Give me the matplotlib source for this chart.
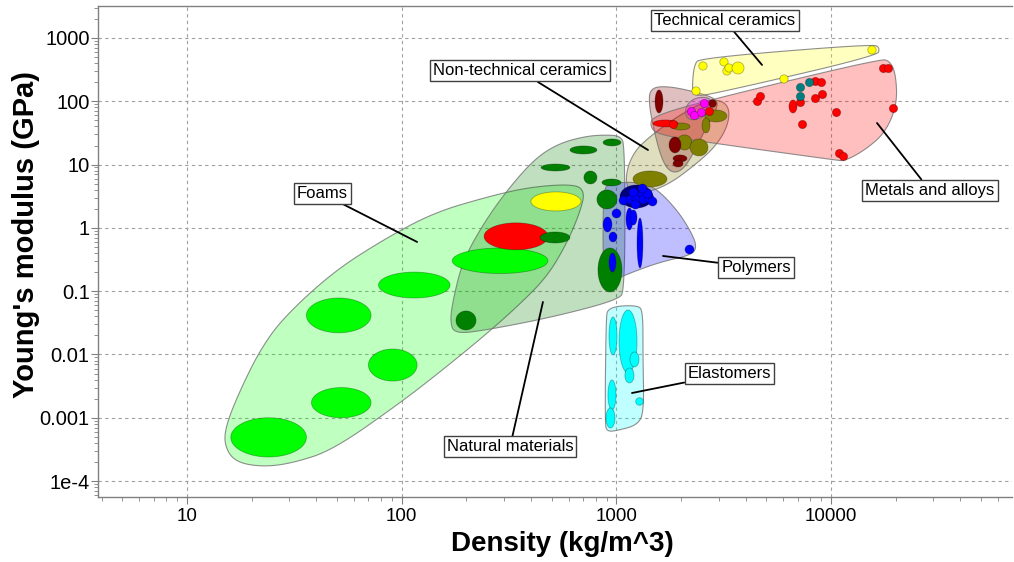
import numpy as np
import matplotlib
matplotlib.use("Agg")
import matplotlib.pyplot as plt
from matplotlib.ticker import FixedLocator, FixedFormatter, LogLocator, NullFormatter

plt.rcParams['font.family'] = ['Liberation Sans', 'DejaVu Sans']

# ---------------- material data: density (kg/m^3) and Young's modulus (GPa) ----------------
# Bubbles are given as (low, high) ranges; envelopes as outline values.

# Foams
FOAM_RHO = [(16, 36), (38, 72), (70, 118), (36, 72), (78, 168), (172, 480), (242, 480), (400, 684)]
FOAM_E = [(2.4e-4, 1.0e-3), (1.0e-3, 3.0e-3), (3.8e-3, 0.0122), (0.022, 0.078),
          (0.078, 0.20), (0.19, 0.48), (0.45, 1.2), (1.85, 3.7)]
FOAM_COLORS = ['#00ff00'] * 6 + ['#ff0000', '#ffff00']
FOAM_ENV_RHO = [641, 714, 677, 589, 475, 344, 239, 150.8, 98.2, 47.9, 31.2, 22.6, 16.7,
                14.9, 15.2, 17.7, 21.9, 28.0, 47.9, 81.8, 139.9, 249.5, 396]
FOAM_ENV_E = [4.94, 3.69, 1.78, 0.577, 0.1676, 0.0563, 0.0189, 5.29e-3, 1.71e-3, 3.10e-4,
              1.93e-4, 1.67e-4, 2.0e-4, 3.72e-4, 7.69e-4, 2.75e-3, 0.01178, 0.0377, 0.201,
              0.644, 1.72, 3.08, 4.43]

# Natural materials
NAT_RHO = [(608, 812), (867, 1051), (446, 608), (706, 812), (857, 1051), (812, 1007),
           (441, 608), (821, 1062), (179, 222)]
NAT_E = [(14.7, 19.7), (19.7, 25.4), (7.92, 10.2), (4.94, 7.92), (4.59, 5.92), (1.99, 3.97),
         (0.577, 0.861), (0.0971, 0.481), (0.0244, 0.0487)]
NAT_ENV_RHO = [904, 1040, 1096, 1096, 1018, 507, 249.5, 177, 168, 173.4, 193, 249.5, 330, 427, 546, 730]
NAT_ENV_E = [29.4, 28.3, 20.4, 0.1045, 0.0726, 0.0391, 0.0244, 0.0211, 0.0326, 0.0726, 0.311,
             1.434, 5.12, 13.2, 21.9, 28.3]

# Polymers
POLY_RHO = [(1040, 1481), (867, 954), (924, 1007), (1109, 1195), (1157, 1248), (1248, 1330), (924, 996)]
POLY_E = [(2.06, 4.76), (0.861, 1.486), (0.599, 0.861), (0.926, 2.06), (1.11, 1.92),
          (0.2325, 1.434), (0.201, 0.401)]
POLY_COLORS = ['#000080'] + ['#0000ff'] * 6
POLY_DOT_RHO = [1074, 1157, 1234, 1221, 1316, 1330, 1419, 1389, 1466, 1316, 1195, 1001, 2191]
POLY_DOT_E = [2.76, 2.86, 2.97, 2.39, 3.56, 2.86, 2.97, 3.56, 2.66, 4.27, 3.69, 1.69, 0.464]
POLY_ENV_RHO = [867, 933, 1288, 1546, 1916, 2203, 2375, 2251, 1597, 1096, 914, 867]
POLY_ENV_E = [3.97, 5.12, 5.31, 4.12, 1.92, 0.926, 0.518, 0.373, 0.289, 0.180, 0.1348, 0.180]

# Elastomers
ELAS_RHO = [(924, 1007), (1029, 1248), (1157, 1275), (1096, 1208), (914, 996), (895, 985)]
ELAS_E = [(9.82e-3, 0.0391), (5.10e-3, 0.0505), (6.35e-3, 0.01095), (3.55e-3, 6.12e-3),
          (1.33e-3, 3.95e-3), (6.90e-4, 1.43e-3)]
ELAS_DOT_RHO = [1275]
ELAS_DOT_E = [1.84e-3]
ELAS_ENV_RHO = [914, 1261, 1330, 1330, 1345, 1247, 1040, 904, 885, 895]
ELAS_ENV_E = [0.0563, 0.0605, 0.0469, 9.13e-3, 1.19e-3, 7.69e-4, 6.42e-4, 5.97e-4, 8.28e-4, 0.0351]

# Non-technical ceramics
NTC_RHO = [(1195, 1721), (1916, 2251), (2203, 2672), (1816, 2203), (2587, 3273), (2506, 2729)]
NTC_E = [(4.43, 7.92), (17.0, 29.4), (13.7, 25.4), (35.2, 45.4), (47.1, 72.9), (31.6, 54.5)]
NTC_ENV_RHO = [1121, 1109, 1208, 1404, 1876, 2587, 3105, 3383, 3273, 2880, 2325, 1740, 1316]
NTC_ENV_E = [3.97, 7.64, 15.8, 26.3, 54.5, 101.1, 104.8, 72.9, 37.8, 19.0, 9.86, 4.76, 3.43]

# Composites
COMP_RHO = [(1514, 1649), (1759, 2000), (1836, 2133), (1836, 2044)]
COMP_E = [(65.3, 150.8), (15.3, 27.3), (11.0, 14.2), (9.16, 11.8)]
COMP_DOT_RHO = [2789]
COMP_DOT_E = [94.0]
COMP_ENV_RHO = [1434, 1740, 2453, 2911, 2974, 2587, 2203, 1979, 1777, 1632, 1514, 1419]
COMP_ENV_E = [162.2, 174.4, 135.3, 108.7, 81.2, 35.2, 11.8, 7.64, 7.64, 11.8, 29.4, 87.4]

# Glasses
GLASS_DOT_RHO = [2227, 2300, 2479, 2560]
GLASS_DOT_E = [70.3, 60.8, 67.7, 94.0]
GLASS_ENV_RHO = [2110, 2300, 2672, 2789, 2616, 2251, 2088]
GLASS_ENV_E = [84.3, 112.7, 116.9, 94.0, 58.6, 48.8, 58.6]

# Metals and alloys
METAL_RHO = [(1481, 1936), (6368, 6941)]
METAL_E = [(39.3, 50.7), (65.3, 104.8)]
METAL_DOT_RHO = [1836, 2701, 8418, 8981, 9077, 8418, 7168, 4519, 4667, 10540, 7322,
                 10890, 11370, 17460, 18420, 19440]
METAL_DOT_E = [43.8, 70.3, 209.3, 201.8, 130.4, 112.7, 97.5, 101.1, 121.2, 67.7, 43.8,
               15.3, 13.7, 335.7, 335.7, 78.4]
TEAL_DOT_RHO = [7895, 7168, 7168]
TEAL_DOT_E = [201.8, 168.2, 121.2]
METAL_ENV_RHO = [1481, 2818, 16900, 18820, 20070, 20290, 17840, 14390, 11610, 10430, 2203, 1546, 1434]
METAL_ENV_E = [58.6, 108.7, 465.9, 433, 260.3, 87.4, 31.6, 17.0, 11.4, 11.8, 24.5, 30.4, 40.7]

# Technical ceramics
TC_DOT_RHO = [2532, 3171, 3275, 3346, 3687, 6037, 15510, 2350]
TC_DOT_E = [361, 417.8, 301, 335.7, 335.7, 225, 646, 145.4]
TC_DOT_SIZE = [36, 36, 36, 36, 75, 36, 36, 36]
TC_ENV_RHO = [2453, 15680, 16900, 16370, 2818, 2325, 2251, 2300]
TC_ENV_E = [483, 804, 695, 519, 130.4, 121.2, 150.8, 374.6]

# Family labels: text, label position (rho, E), leader end (rho, E)
LABELS = [
    ("Technical ceramics", (3206, 1856), (4770, 375)),
    ("Non-technical ceramics", (356, 301), (1404, 17.0)),
    ("Metals and alloys", (28900, 3.90), (16370, 45.4)),
    ("Foams", (42.6, 3.49), (118, 0.599)),
    ("Polymers", (4472, 0.2367), (1649, 0.36)),
    ("Elastomers", (3365, 5.01e-3), (1182, 2.46e-3)),
    ("Natural materials", (319.5, 3.46e-4), (455, 0.0675)),
]

X_TICKS = [10, 100, 1000, 10000]
X_TICK_LABELS = ["10", "100", "1000", "10000"]
Y_TICKS = [1e-4, 1e-3, 1e-2, 1e-1, 1, 10, 100, 1000]
Y_TICK_LABELS = ["1e-4", "0.001", "0.01", "0.1", "1", "10", "100", "1000"]


# ---------------- helpers ----------------
def smooth_closed(xs, ys, iterations=3):
    """Chaikin corner cutting of a closed outline, done in log space."""
    p = np.column_stack([np.log10(xs), np.log10(ys)])
    for _ in range(iterations):
        q = np.roll(p, -1, axis=0)
        a = 0.75 * p + 0.25 * q
        b = 0.25 * p + 0.75 * q
        p = np.empty((2 * len(a), 2))
        p[0::2] = a
        p[1::2] = b
    return 10 ** p[:, 0], 10 ** p[:, 1]


def ellipse(rho, E, n=90):
    lx = np.log10(rho)
    ly = np.log10(E)
    t = np.linspace(0, 2 * np.pi, n)
    cx, rx = lx.mean(), (lx[1] - lx[0]) / 2
    cy, ry = ly.mean(), (ly[1] - ly[0]) / 2
    return 10 ** (cx + rx * np.cos(t)), 10 ** (cy + ry * np.sin(t))


EDGE = (0, 0, 0, 0.3)


def envelope(ax, xs, ys, color):
    sx, sy = smooth_closed(xs, ys)
    ax.fill(sx, sy, facecolor=color, alpha=0.25, edgecolor='none', zorder=2)
    ax.fill(sx, sy, facecolor='none', edgecolor=(0.45, 0.45, 0.45, 0.8), linewidth=0.8, zorder=2)


def bubbles(ax, rhos, Es, colors, z=3):
    if isinstance(colors, str):
        colors = [colors] * len(rhos)
    for r, e, c in zip(rhos, Es, colors):
        x, y = ellipse(r, e)
        ax.fill(x, y, facecolor=c, edgecolor=EDGE, linewidth=0.6, zorder=z)


def dots(ax, xs, ys, color, size=36, z=4):
    ax.scatter(xs, ys, s=size, c=color, edgecolors=[EDGE], linewidths=0.6, zorder=z)


# ---------------- figure ----------------
fig = plt.figure(figsize=(10.14, 5.62), dpi=100)
ax = fig.add_axes([98 / 1014, 65 / 562, 914 / 1014, 491 / 562])
ax.set_xscale('log')
ax.set_yscale('log')
ax.set_xlim(3.85, 69650)
ax.set_ylim(5.6e-5, 3200)

# envelopes
envelope(ax, FOAM_ENV_RHO, FOAM_ENV_E, '#00ff00')
envelope(ax, NAT_ENV_RHO, NAT_ENV_E, '#008000')
envelope(ax, POLY_ENV_RHO, POLY_ENV_E, '#0000ff')
envelope(ax, ELAS_ENV_RHO, ELAS_ENV_E, '#00ffff')
envelope(ax, NTC_ENV_RHO, NTC_ENV_E, '#808000')
envelope(ax, COMP_ENV_RHO, COMP_ENV_E, '#800000')
envelope(ax, METAL_ENV_RHO, METAL_ENV_E, '#ff0000')
envelope(ax, GLASS_ENV_RHO, GLASS_ENV_E, '#ff00ff')
envelope(ax, TC_ENV_RHO, TC_ENV_E, '#ffff00')

# material bubbles
bubbles(ax, FOAM_RHO, FOAM_E, FOAM_COLORS)
bubbles(ax, NAT_RHO, NAT_E, '#008000')
bubbles(ax, POLY_RHO, POLY_E, POLY_COLORS)
dots(ax, POLY_DOT_RHO, POLY_DOT_E, '#0000ff', size=42)
bubbles(ax, ELAS_RHO, ELAS_E, '#00ffff')
dots(ax, ELAS_DOT_RHO, ELAS_DOT_E, '#00ffff', size=30)
bubbles(ax, NTC_RHO, NTC_E, '#808000')
bubbles(ax, COMP_RHO, COMP_E, '#800000')
dots(ax, COMP_DOT_RHO, COMP_DOT_E, '#800000', size=30)
dots(ax, GLASS_DOT_RHO, GLASS_DOT_E, '#ff00ff', size=36)
bubbles(ax, METAL_RHO, METAL_E, '#ff0000', z=4)
dots(ax, METAL_DOT_RHO, METAL_DOT_E, '#ff0000', size=36)
dots(ax, TEAL_DOT_RHO, TEAL_DOT_E, '#008080', size=36)
dots(ax, TC_DOT_RHO, TC_DOT_E, '#ffff00', size=TC_DOT_SIZE)

# family labels with leader lines
for text, pos, tip in LABELS:
    ax.annotate(text, xy=tip, xytext=pos, ha='center', va='center', fontsize=12,
                color='black', zorder=6,
                bbox=dict(boxstyle='square,pad=0.18', facecolor='white',
                          edgecolor='#404040', linewidth=1.0),
                arrowprops=dict(arrowstyle='-', color='black', linewidth=1.3,
                                shrinkA=0, shrinkB=0))

# axes styling
ax.xaxis.set_major_locator(FixedLocator(X_TICKS))
ax.xaxis.set_major_formatter(FixedFormatter(X_TICK_LABELS))
ax.yaxis.set_major_locator(FixedLocator(Y_TICKS))
ax.yaxis.set_major_formatter(FixedFormatter(Y_TICK_LABELS))
ax.xaxis.set_minor_locator(LogLocator(base=10, subs=np.arange(2, 10), numticks=20))
ax.yaxis.set_minor_locator(LogLocator(base=10, subs=np.arange(2, 10), numticks=20))
ax.xaxis.set_minor_formatter(NullFormatter())
ax.yaxis.set_minor_formatter(NullFormatter())

ax.grid(True, which='major', color='#a0a0a0', linestyle=(0, (3, 3)), linewidth=0.8)
ax.set_axisbelow(True)

for side in ('left', 'bottom', 'top'):
    ax.spines[side].set_color('#808080')
    ax.spines[side].set_linewidth(1.0)
ax.spines['right'].set_visible(False)

ax.tick_params(axis='both', which='major', direction='out', length=5, width=0.8,
               color='#808080', labelcolor='black')
ax.tick_params(axis='both', which='minor', direction='out', length=3, width=0.6, color='#808080')
ax.tick_params(axis='y', which='major', labelsize=14.5, pad=1)
ax.tick_params(axis='x', which='major', labelsize=13.5, pad=3)

ax.set_xlabel('Density (kg/m^3)', fontsize=20, fontweight='bold')
ax.set_ylabel("Young's modulus (GPa)", fontsize=21, fontweight='bold')
ax.xaxis.set_label_coords(0.508, -0.069)
ax.yaxis.set_label_coords(-0.063, 0.534)

fig.savefig('out.png', dpi=100)
